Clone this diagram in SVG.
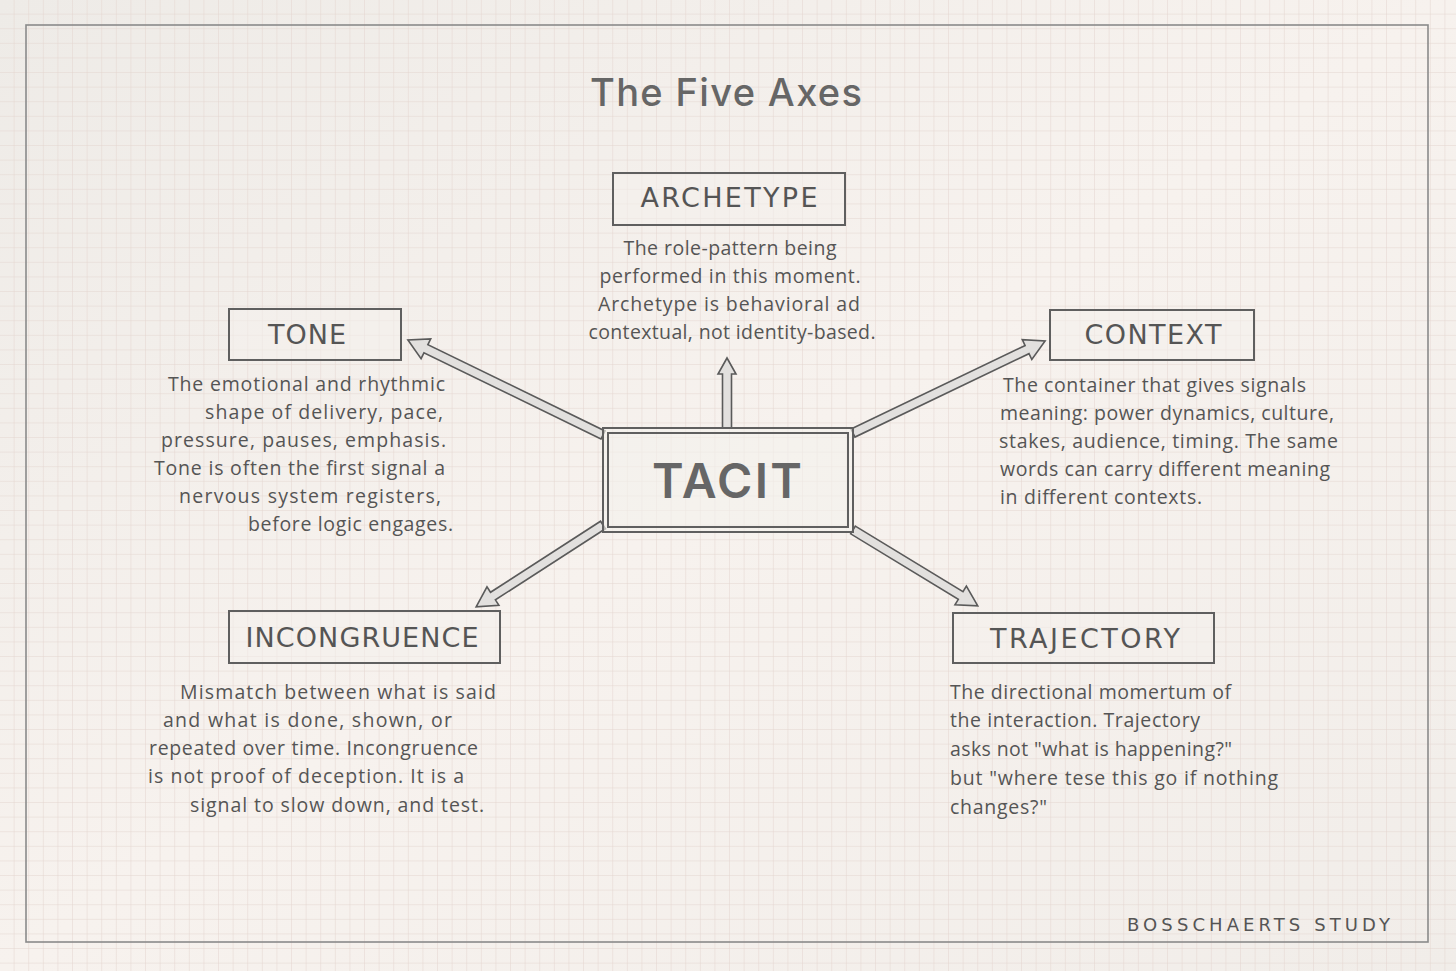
<svg xmlns="http://www.w3.org/2000/svg" width="1456" height="971" viewBox="0 0 1456 971">
<defs>
<pattern id="grid" width="14.6" height="14.6" patternUnits="userSpaceOnUse">
<path d="M14.6 0 V14.6 M0 14.6 H14.6" fill="none" stroke="#e3d5cf" stroke-width="1"/>
</pattern>
<linearGradient id="bg" x1="0" y1="0" x2="1" y2="1">
<stop offset="0" stop-color="#eeebe7"/>
<stop offset="0.5" stop-color="#f7f2ee"/>
<stop offset="1" stop-color="#f1ede9"/>
</linearGradient>
<style>
.box{fill:#f4f1ed;fill-opacity:0.55;stroke:#5f5f5f;stroke-width:2}
.lbl{font-family:"DejaVu Sans",Arial,sans-serif;font-size:27px;fill:#555;text-anchor:middle}
.body{font-family:"Open Sans","Liberation Sans",Arial,sans-serif;font-size:19.5px;fill:#555}
.arrow{fill:#e2e0de;stroke:#5a5a5a;stroke-width:1.6;stroke-linejoin:miter}
.mid{text-anchor:middle}
.end{text-anchor:end}
</style>
</defs>
<rect width="1456" height="971" fill="url(#bg)"/>
<rect width="1456" height="971" fill="url(#grid)"/>
<rect x="26" y="25" width="1402" height="917" fill="none" stroke="#8a8a8a" stroke-width="1.6"/>
<text x="726" y="106" font-family="Inter,Liberation Sans,Arial,sans-serif" font-size="38" font-weight="500" fill="#666" text-anchor="middle" textLength="272">The Five Axes</text>

<g id="connectors">
<polygon class="arrow" transform="translate(727,428) rotate(-90)" points="0,-4.5 54,-4.5 54,-9 70,0 54,9 54,4.5 0,4.5"/>
<polygon class="arrow" transform="translate(603,435) rotate(205.97)" points="0,-4.5 197,-4.5 197,-11 217,0 197,11 197,4.5 0,4.5"/>
<polygon class="arrow" transform="translate(853,433) rotate(-25.6)" points="0,-4.5 193,-4.5 193,-11 213,0 193,11 193,4.5 0,4.5"/>
<polygon class="arrow" transform="translate(603,525) rotate(147.15)" points="0,-4.5 131,-4.5 131,-11 151,0 131,11 131,4.5 0,4.5"/>
<polygon class="arrow" transform="translate(853,530) rotate(31.3)" points="0,-4.5 126,-4.5 126,-11 146,0 126,11 126,4.5 0,4.5"/>
</g>

<g id="tacit">
<rect x="603" y="428" width="250" height="104" fill="#f4f1ed" fill-opacity="0.6" stroke="#5f5f5f" stroke-width="2"/>
<rect x="608" y="433" width="240" height="94" fill="none" stroke="#5f5f5f" stroke-width="2"/>
<text x="727" y="498" font-family="Inter,Liberation Sans,Arial,sans-serif" font-size="48" font-weight="600" fill="#666" text-anchor="middle" textLength="150">TACIT</text>
</g>

<g id="archetype">
<rect class="box" x="613" y="173" width="232" height="52"/>
<text class="lbl" x="729" y="207" textLength="177">ARCHETYPE</text>
<text class="body mid" x="730" y="255" textLength="213">The role-pattern being</text>
<text class="body mid" x="730" y="283" textLength="261">performed in this moment.</text>
<text class="body mid" x="729" y="311" textLength="262">Archetype is behavioral ad</text>
<text class="body mid" x="732" y="339" textLength="287">contextual, not identity-based.</text>
</g>

<g id="tone">
<rect class="box" x="229" y="309" width="172" height="51"/>
<text class="lbl" x="307" y="344" textLength="78">TONE</text>
<text class="body end" x="445" y="391" textLength="277">The emotional and rhythmic</text>
<text class="body end" x="443" y="419" textLength="238">shape of delivery, pace,</text>
<text class="body end" x="446" y="447" textLength="285">pressure, pauses, emphasis.</text>
<text class="body end" x="445" y="475" textLength="291">Tone is often the first signal a</text>
<text class="body end" x="441" y="503" textLength="262">nervous system registers,</text>
<text class="body end" x="453" y="531" textLength="205">before logic engages.</text>
</g>

<g id="context">
<rect class="box" x="1050" y="310" width="204" height="50"/>
<text class="lbl" x="1153" y="344" textLength="137">CONTEXT</text>
<text class="body" x="1003" y="392" textLength="303">The container that gives signals</text>
<text class="body" x="1000" y="420" textLength="334">meaning: power dynamics, culture,</text>
<text class="body" x="999" y="448" textLength="339">stakes, audience, timing. The same</text>
<text class="body" x="1000" y="476" textLength="330">words can carry different meaning</text>
<text class="body" x="1000" y="504" textLength="202">in different contexts.</text>
</g>

<g id="incongruence">
<rect class="box" x="229" y="611" width="271" height="52"/>
<text class="lbl" x="362" y="647" textLength="233">INCONGRUENCE</text>
<text class="body" x="180" y="699" textLength="316">Mismatch between what is said</text>
<text class="body" x="163" y="727" textLength="289">and what is done, shown, or</text>
<text class="body" x="149" y="755" textLength="329">repeated over time. Incongruence</text>
<text class="body" x="148" y="783" textLength="316">is not proof of deception. It is a</text>
<text class="body" x="190" y="812" textLength="294">signal to slow down, and test.</text>
</g>

<g id="trajectory">
<rect class="box" x="953" y="613" width="261" height="50"/>
<text class="lbl" x="1085" y="648" textLength="190">TRAJECTORY</text>
<text class="body" x="950" y="699" textLength="281">The directional momertum of</text>
<text class="body" x="950" y="727" textLength="250">the interaction. Trajectory</text>
<text class="body" x="950" y="756" textLength="282">asks not "what is happening?"</text>
<text class="body" x="950" y="785" textLength="328">but "where tese this go if nothing</text>
<text class="body" x="950" y="814" textLength="97">changes?"</text>
</g>

<text x="1127" y="931" font-family="DejaVu Sans,Arial,sans-serif" font-size="18" fill="#555" textLength="263">BOSSCHAERTS STUDY</text>
</svg>
